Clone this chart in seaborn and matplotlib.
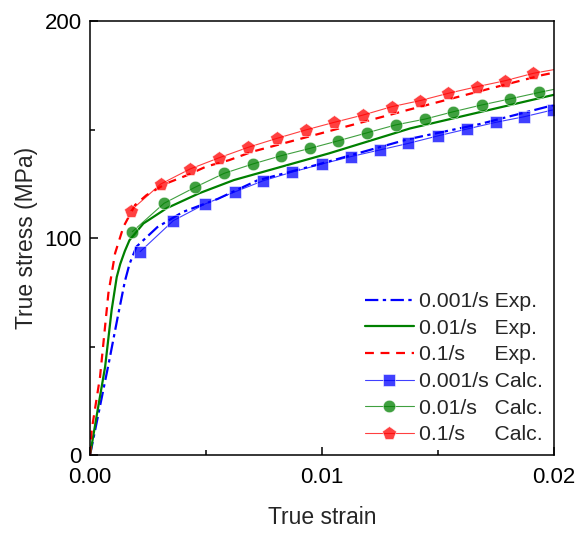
import numpy as np
import pandas as pd
import matplotlib
matplotlib.use("Agg")
import matplotlib.pyplot as plt
from matplotlib.ticker import MultipleLocator, FixedFormatter, FixedLocator
import seaborn as sns

exp_strain_001 = [0, 0.0004, 0.0008, 0.0012, 0.0015, 0.0017, 0.002, 0.0029, 0.004,
                  0.0055, 0.0072, 0.0098, 0.0137, 0.0168, 0.02]
exp_stress_001 = [0, 21, 42, 64, 80, 88, 96, 105, 112, 118, 126.5, 133.8, 145.5, 152.5, 161.3]

exp_strain_01 = [0, 0.0003, 0.00065, 0.00093, 0.00115, 0.0013, 0.0015, 0.0017, 0.0023,
                 0.0033, 0.0047, 0.0062, 0.0073, 0.0103, 0.0138, 0.02]
exp_stress_01 = [0, 19, 40.7, 66.8, 82, 88, 94, 99, 106.7, 113.7, 120.6, 126.7, 130, 139, 150.5, 166]

exp_strain_1 = [0, 0.00007, 0.00043, 0.00079, 0.00108, 0.00144, 0.00194, 0.00244, 0.0033,
                0.0042, 0.005, 0.006, 0.007, 0.0098, 0.0137, 0.017, 0.0195, 0.02]
exp_stress_1 = [0, 11.5, 36, 74.5, 93, 105.2, 115.2, 119.8, 125.2, 129, 132.9, 135.9,
                139.8, 147.8, 159, 168.2, 175.1, 176.2]

# Calculated points (markers)
calc_strain_001 = [0.00216, 0.00359, 0.00496, 0.00625, 0.00747, 0.00869, 0.00999, 0.01124,
                   0.0125, 0.01372, 0.01501, 0.01624, 0.01749, 0.01872, 0.01994]
calc_stress_001 = [93.7, 108.0, 115.7, 121.3, 126.4, 130.3, 134.1, 137.5, 140.6, 143.6,
                   147.1, 150.2, 153.3, 155.9, 159.0]

calc_strain_01 = [0.00182, 0.00319, 0.00453, 0.00578, 0.00701, 0.00823, 0.00948, 0.0107,
                  0.01195, 0.01317, 0.01444, 0.01566, 0.01688, 0.0181, 0.01937, 0.02]
calc_stress_01 = [102.9, 116.0, 123.4, 129.8, 134.1, 137.9, 141.3, 144.8, 148.5, 152.1,
                  154.8, 158.2, 161.3, 164.1, 167.1, 168.5]

calc_strain_1 = [0.00175, 0.00305, 0.00431, 0.00557, 0.00682, 0.00805, 0.0093, 0.01052,
                 0.01178, 0.013, 0.01422, 0.01545, 0.01667, 0.0179, 0.01911, 0.02]
calc_stress_1 = [112.6, 124.9, 131.8, 137.0, 141.8, 145.9, 149.8, 153.3, 156.7, 160.5,
                 163.3, 166.7, 169.7, 172.5, 175.9, 177.6]

BLUE = "#0000ff"
GREEN = "#008000"
RED = "#ff0000"

sns.set_theme(style="ticks")
plt.rcParams["font.family"] = ["Liberation Sans", "DejaVu Sans"]

fig = plt.figure(figsize=(5.81, 5.33), dpi=100)
ax = fig.add_axes([0.155, 0.1463, 0.7985, 0.8143])

# Exp. lines
sns.lineplot(x=exp_strain_001, y=exp_stress_001, ax=ax, sort=False, color=BLUE,
             linestyle=(0, (6, 2, 1.5, 2)), linewidth=1.6, label="0.001/s Exp.")
sns.lineplot(x=exp_strain_01, y=exp_stress_01, ax=ax, sort=False, color=GREEN,
             linestyle="-", linewidth=1.6, label="0.01/s   Exp.")
sns.lineplot(x=exp_strain_1, y=exp_stress_1, ax=ax, sort=False, color=RED,
             linestyle=(0, (4, 3)), linewidth=1.6, label="0.1/s     Exp.")

# Calc. lines with markers
n_b = len(calc_strain_001)
sns.lineplot(x=calc_strain_001, y=calc_stress_001, ax=ax, sort=False, color=BLUE,
             linewidth=0.8, alpha=0.75, marker="s", markersize=8, markeredgewidth=0.5,
             markevery=list(range(n_b)), label="0.001/s Calc.")
sns.lineplot(x=calc_strain_01, y=calc_stress_01, ax=ax, sort=False, color=GREEN,
             linewidth=0.8, alpha=0.75, marker="o", markersize=9, markeredgewidth=0.5,
             markevery=list(range(len(calc_strain_01) - 1)), label="0.01/s   Calc.")
sns.lineplot(x=calc_strain_1, y=calc_stress_1, ax=ax, sort=False, color=RED,
             linewidth=0.8, alpha=0.75, marker="p", markersize=10, markeredgewidth=0.5,
             markevery=list(range(len(calc_strain_1) - 1)), label="0.1/s     Calc.")

ax.set_xlim(0, 0.02)
ax.set_ylim(0, 200)
ax.xaxis.set_major_locator(FixedLocator([0, 0.01, 0.02]))
ax.xaxis.set_major_formatter(FixedFormatter(["0.00", "0.01", "0.02"]))
ax.xaxis.set_minor_locator(MultipleLocator(0.005))
ax.yaxis.set_major_locator(MultipleLocator(100))
ax.yaxis.set_minor_locator(MultipleLocator(50))
ax.tick_params(which="both", direction="in", top=False, right=False, labelsize=16,
               colors="black", width=1.1)
ax.tick_params(axis="x", which="major", pad=8.5)
ax.tick_params(axis="y", which="major", pad=6)
ax.tick_params(which="major", length=6)
ax.tick_params(which="minor", length=3.5)
for sp in ax.spines.values():
    sp.set_visible(True)
    sp.set_color("black")
    sp.set_linewidth(1.1)

ax.set_xlabel("True strain", fontsize=16.5, labelpad=13)
ax.set_ylabel("True stress (MPa)", fontsize=16.5, labelpad=5)

leg = ax.legend(loc="lower right", bbox_to_anchor=(1.0, 0.0), frameon=False,
                fontsize=15.3, handlelength=2.3, handletextpad=0.28, labelspacing=0.36,
                borderaxespad=0.1, borderpad=0.4)

fig.savefig("out.png", dpi=100)
